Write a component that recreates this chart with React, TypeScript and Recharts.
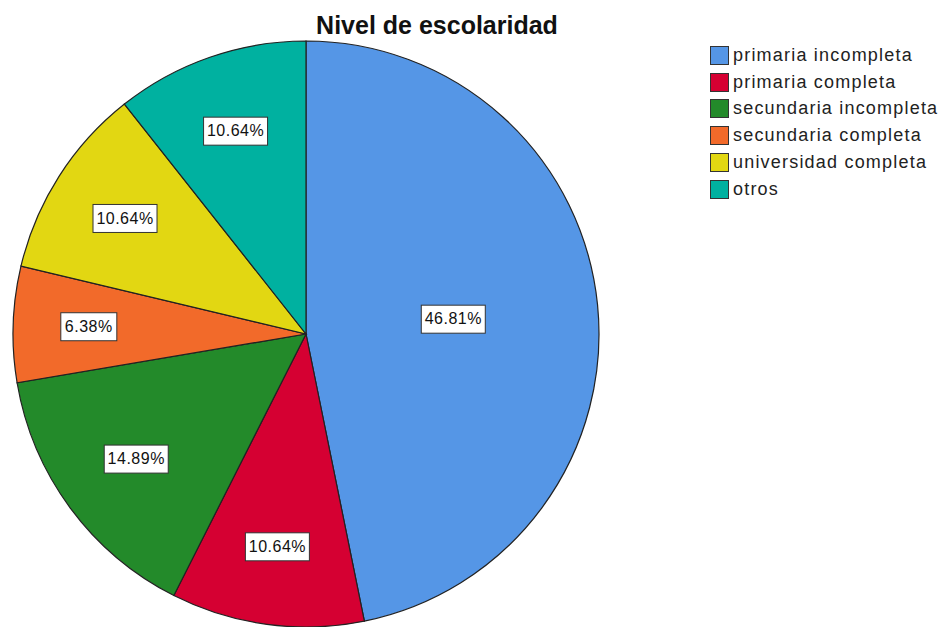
import React from "react";
import { PieChart, Pie, Cell, Legend } from "recharts";

const categorias = [
  "primaria incompleta",
  "primaria completa",
  "secundaria incompleta",
  "secundaria completa",
  "universidad completa",
  "otros",
];
const frecuencias = [22, 5, 7, 3, 5, 5];
const colores = ["#5596e6", "#d50032", "#238a2a", "#f26a2a", "#e2d712", "#00b1a0"];

const data = categorias.map((name, i) => ({ name, value: frecuencias[i] }));

const RAD = Math.PI / 180;

function EtiquetaPct(props: any) {
  const { cx, cy, midAngle, outerRadius, percent } = props;
  const a = Math.max(percent * Math.PI, 0.0001);
  const d = ((2 / 3) * outerRadius * Math.sin(a)) / a * 1.12;
  const x = cx + d * Math.cos(-midAngle * RAD);
  const y = cy + d * Math.sin(-midAngle * RAD);
  const txt = (percent * 100).toFixed(2) + "%";
  const w = txt.length * 8 + 16;
  const h = 28;
  return (
    <g>
      <rect x={x - w / 2} y={y - h / 2} width={w} height={h} fill="#fff" stroke="#333" strokeWidth={1} />
      <text x={x} y={y + 1} textAnchor="middle" dominantBaseline="middle" fontSize={16} letterSpacing={0.5} fill="#111" fontFamily="Liberation Sans, Arial, sans-serif">
        {txt}
      </text>
    </g>
  );
}

function Leyenda() {
  return (
    <div style={{ fontFamily: "Liberation Sans, Arial, sans-serif" }}>
      {categorias.map((c, i) => (
        <div key={c} style={{ display: "flex", alignItems: "center", height: 26.8 }}>
          <span
            style={{
              display: "inline-block",
              width: 17,
              height: 17,
              background: colores[i],
              border: "1px solid #333",
              marginRight: 4,
              flexShrink: 0,
            }}
          />
          <span style={{ fontSize: 18, color: "#222", letterSpacing: 1.2, whiteSpace: "nowrap" }}>{c}</span>
        </div>
      ))}
    </div>
  );
}

export default function App() {
  return (
    <div style={{ position: "absolute", left: 0, top: 0, width: 943, height: 627, background: "#fff" }}>
      <div
        style={{
          position: "absolute",
          left: 0,
          width: 874,
          top: 11,
          textAlign: "center",
          fontFamily: "Liberation Sans, Arial, sans-serif",
          fontWeight: "bold",
          fontSize: 25,
          color: "#111",
        }}
      >
        Nivel de escolaridad
      </div>
      <PieChart width={943} height={627} margin={{ top: 0, right: 0, bottom: 0, left: 0 }}>
        <Pie
          data={data}
          dataKey="value"
          nameKey="name"
          cx={306}
          cy={334}
          outerRadius={293}
          startAngle={90}
          endAngle={-270}
          stroke="#222"
          strokeWidth={1.2}
          label={EtiquetaPct}
          labelLine={false}
          isAnimationActive={false}
        >
          {data.map((d, i) => (
            <Cell key={d.name} fill={colores[i]} />
          ))}
        </Pie>
        <Legend
          layout="vertical"
          content={() => <Leyenda />}
          wrapperStyle={{ position: "absolute", left: 710, top: 42, width: 233 }}
        />
      </PieChart>
    </div>
  );
}
